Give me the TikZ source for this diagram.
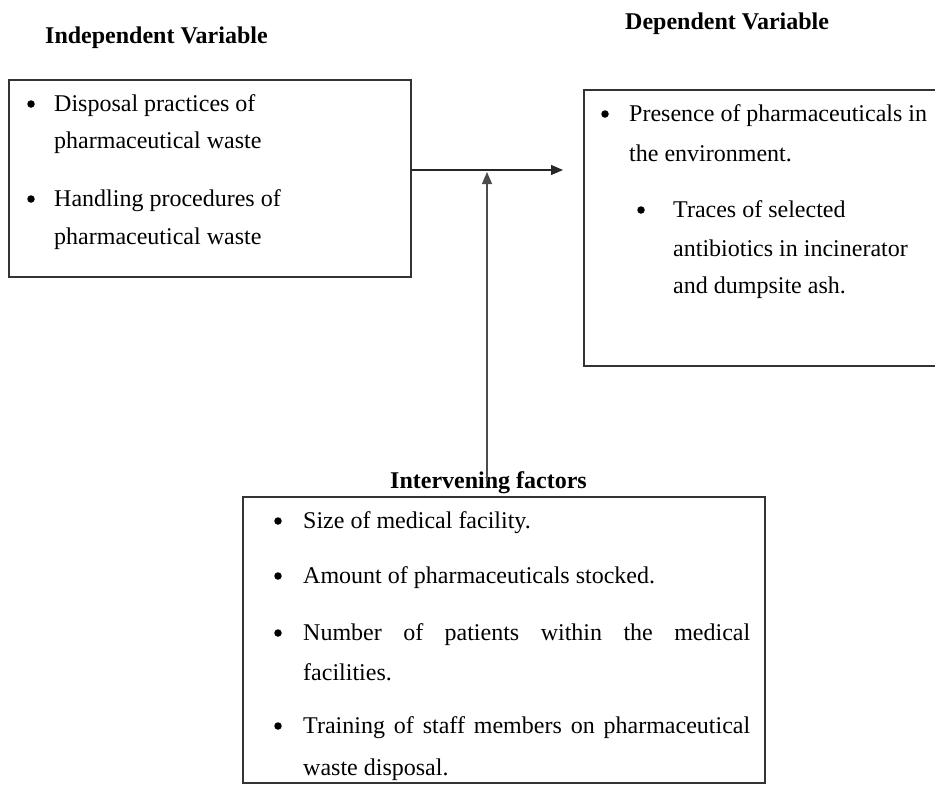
\documentclass[tikz,border=0pt]{standalone}
\usepackage{fontspec}
\setmainfont{Liberation Serif}
\usetikzlibrary{arrows.meta}
\begin{document}
\begin{tikzpicture}[x=1pt,y=-1pt,
  box/.style={draw=black!80, line width=1.1pt, inner sep=0pt, outer sep=0pt, anchor=north west},
  txt/.style={anchor=base west, inner sep=0pt, font=\fontsize{24}{29}\selectfont},
  ttl/.style={anchor=base west, inner sep=0pt, font=\fontsize{24}{29}\selectfont\bfseries},
  bul/.style={circle, fill=black, inner sep=0pt, minimum size=7.5pt, yshift=7pt},
  conn/.style={draw=black!85, line width=1.1pt, -{Triangle[length=12pt,width=10pt]}}]
\useasboundingbox (0,0) rectangle (935,785);

% titles
\node[ttl] (tiv) at (45,43) {Independent Variable};
\node[ttl] (tdv) at (625,29) {Dependent Variable};
\node[ttl] (tint) at (390,488) {Intervening factors};

% boxes
\node[box, minimum width=402pt, minimum height=197pt] (iv) at (9,80) {};
\node[box, minimum width=356pt, minimum height=276pt] (dv) at (584,90) {};
\node[box, minimum width=522pt, minimum height=286pt] (ifb) at (243,497) {};

% independent variable items
\node[bul] (b1) at (31,111) {};
\node[txt] (l1a) at (54,111) {Disposal practices of};
\node[txt] (l1b) at (54,148) {pharmaceutical waste};
\node[bul] (b2) at (31,206) {};
\node[txt] (l2a) at (54,206) {Handling procedures of};
\node[txt] (l2b) at (54,244) {pharmaceutical waste};

% dependent variable items
\node[bul] (b3) at (605,121) {};
\node[txt] (r1a) at (629,121) {Presence of pharmaceuticals in};
\node[txt] (r1b) at (629,161) {the environment.};
\node[bul] (b4) at (641,217) {};
\node[txt] (r2a) at (673,217) {Traces of selected};
\node[txt] (r2b) at (673,256) {antibiotics in incinerator};
\node[txt] (r2c) at (673,293) {and dumpsite ash.};

% intervening factors items
\node[bul] (b5) at (278,528) {};
\node[txt] (f1) at (303,528) {Size of medical facility.};
\node[bul] (b6) at (278,583) {};
\node[txt] (f2) at (303,583) {Amount of pharmaceuticals stocked.};
\node[bul] (b7) at (278,640) {};
\node[txt] (f3a) at (303,640) {\makebox[447pt][s]{Number of patients within the medical}};
\node[txt] (f3b) at (303,680) {facilities.};
\node[bul] (b8) at (278,733) {};
\node[txt] (f4a) at (303,733) {\makebox[447pt][s]{Training of staff members on pharmaceutical}};
\node[txt] (f4b) at (303,775) {waste disposal.};

% connectors
\coordinate (hend) at (563,170);
\coordinate (junc) at (487,172);
\coordinate (vstart) at (487,481);
\draw[conn] (iv.east |- hend) -- (hend);
\draw[conn, draw=black!70] (vstart) -- (junc);
\end{tikzpicture}
\end{document}
